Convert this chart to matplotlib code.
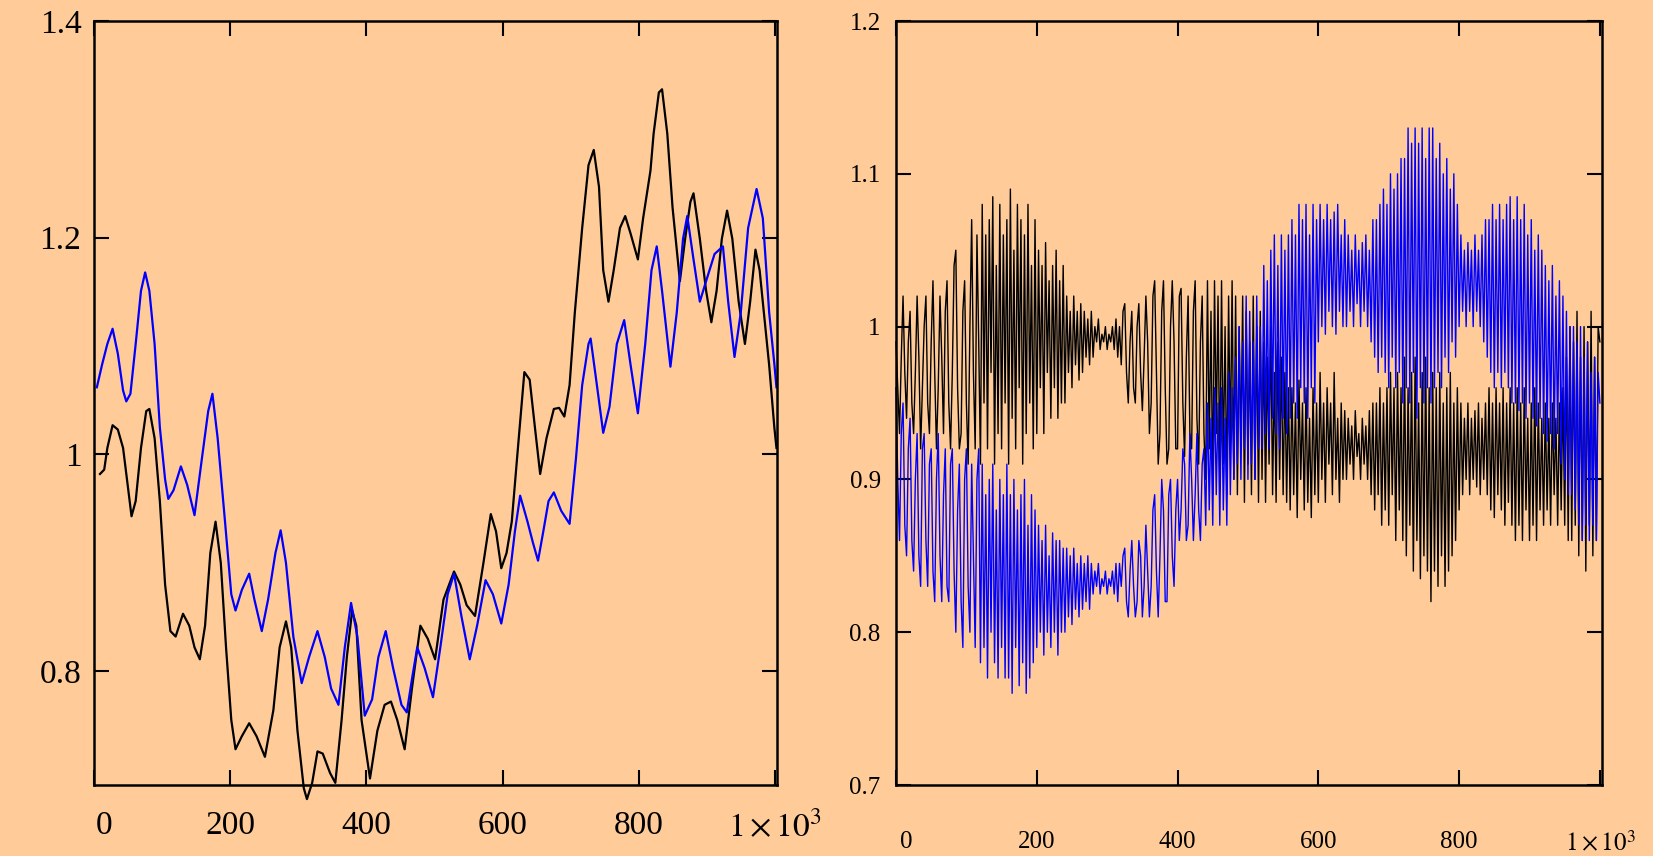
import numpy as np
import matplotlib
matplotlib.use("Agg")
import matplotlib.pyplot as plt
from matplotlib.transforms import ScaledTranslation

# left panel: two slowly wandering series
left_black_x = [8.8, 15.0, 19.6, 27.3, 35.0, 42.7, 50.4, 55.1, 61.2, 69.0,
                76.7, 81.3, 89.0, 96.7, 104.4, 112.2, 119.9, 130.7, 139.9, 147.6,
                155.4, 163.1, 170.8, 178.5, 186.2, 193.9, 201.6, 207.8, 217.1, 227.9,
                238.7, 251.0, 263.4, 272.6, 281.9, 289.6, 298.8, 308.1, 312.7, 320.4,
                328.2, 335.9, 346.7, 354.4, 363.6, 371.3, 379.1, 385.2, 392.9, 405.3,
                416.1, 426.8, 436.1, 445.3, 456.2, 466.9, 479.3, 490.1, 500.9, 513.2,
                528.7, 537.9, 547.2, 559.5, 571.9, 582.7, 590.4, 598.1, 605.8, 613.5,
                621.2, 632.0, 639.8, 647.5, 655.2, 664.5, 675.3, 683.0, 690.7, 698.4,
                706.1, 716.9, 726.2, 733.9, 741.6, 747.8, 755.5, 763.2, 772.4, 780.1,
                787.9, 798.7, 806.4, 817.2, 821.8, 829.5, 834.2, 841.9, 849.6, 860.4,
                868.1, 875.8, 880.4, 889.7, 898.9, 906.6, 914.3, 922.0, 929.7, 937.4,
                946.7, 955.9, 963.6, 971.4, 977.5, 983.7, 991.4, 999.1, 1002.2]
left_black_y = [0.982, 0.986, 1.006, 1.027, 1.023, 1.006, 0.967, 0.943, 0.957, 1.006,
                1.040, 1.042, 1.015, 0.957, 0.880, 0.837, 0.832, 0.853, 0.842, 0.822,
                0.811, 0.842, 0.909, 0.938, 0.900, 0.822, 0.755, 0.728, 0.740, 0.752,
                0.740, 0.721, 0.764, 0.822, 0.846, 0.822, 0.745, 0.692, 0.682, 0.697,
                0.726, 0.724, 0.706, 0.697, 0.755, 0.813, 0.856, 0.842, 0.755, 0.701,
                0.745, 0.769, 0.772, 0.755, 0.728, 0.784, 0.842, 0.830, 0.811, 0.866,
                0.892, 0.880, 0.861, 0.851, 0.900, 0.945, 0.929, 0.895, 0.909, 0.938,
                0.996, 1.076, 1.069, 1.025, 0.982, 1.015, 1.042, 1.043, 1.035, 1.064,
                1.131, 1.209, 1.267, 1.281, 1.247, 1.170, 1.141, 1.170, 1.209, 1.220,
                1.204, 1.180, 1.218, 1.262, 1.296, 1.334, 1.337, 1.296, 1.228, 1.160,
                1.199, 1.233, 1.241, 1.199, 1.151, 1.122, 1.151, 1.199, 1.225, 1.199,
                1.141, 1.102, 1.141, 1.189, 1.170, 1.131, 1.083, 1.025, 1.006]

left_blue_x = [4.2, 11.9, 19.6, 27.3, 35.0, 42.7, 47.4, 53.5, 61.2, 69.0,
               75.1, 81.3, 89.0, 96.7, 104.4, 109.1, 116.8, 127.6, 136.8, 147.6,
               158.4, 167.7, 173.9, 181.6, 192.4, 201.6, 207.8, 217.1, 227.9, 235.6,
               246.4, 255.6, 266.4, 274.1, 281.9, 292.7, 305.0, 315.8, 328.2, 338.9,
               348.2, 359.0, 368.3, 377.5, 386.8, 397.6, 408.4, 417.6, 428.4, 439.2,
               451.5, 459.3, 467.0, 474.7, 485.5, 497.8, 508.6, 519.4, 528.7, 539.5,
               551.8, 562.6, 575.0, 585.8, 598.1, 608.9, 618.1, 625.8, 636.6, 644.4,
               652.1, 659.8, 667.5, 675.3, 686.1, 698.4, 707.7, 716.9, 726.2, 729.3,
               738.5, 747.8, 757.0, 767.8, 778.6, 787.9, 798.7, 809.5, 818.7, 826.4,
               834.2, 846.5, 855.8, 865.0, 871.2, 880.4, 889.7, 898.9, 911.3, 923.6,
               931.3, 940.6, 949.8, 960.6, 973.0, 982.2, 991.5, 999.2, 1002.2]
left_blue_y = [1.062, 1.083, 1.102, 1.116, 1.093, 1.059, 1.049, 1.056, 1.102, 1.151,
               1.168, 1.151, 1.102, 1.025, 0.977, 0.959, 0.967, 0.989, 0.972, 0.944,
               0.996, 1.040, 1.056, 1.015, 0.938, 0.871, 0.856, 0.875, 0.890, 0.866,
               0.837, 0.866, 0.909, 0.930, 0.900, 0.832, 0.789, 0.813, 0.837, 0.813,
               0.784, 0.769, 0.822, 0.863, 0.832, 0.759, 0.774, 0.813, 0.837, 0.803,
               0.769, 0.762, 0.793, 0.822, 0.803, 0.776, 0.822, 0.871, 0.890, 0.851,
               0.811, 0.842, 0.884, 0.871, 0.844, 0.880, 0.929, 0.962, 0.938, 0.919,
               0.902, 0.929, 0.957, 0.965, 0.948, 0.936, 0.996, 1.064, 1.102, 1.107,
               1.064, 1.020, 1.044, 1.102, 1.124, 1.083, 1.038, 1.102, 1.170, 1.192,
               1.151, 1.081, 1.131, 1.199, 1.220, 1.180, 1.141, 1.160, 1.185, 1.192,
               1.141, 1.090, 1.131, 1.209, 1.245, 1.218, 1.131, 1.083, 1.062]

# right panel: fast oscillating series, one value every 2.5 steps (16 per row = 40 steps)
right_x = np.linspace(0, 1000, 401)
right_black = [
    0.99, 0.96, 0.93, 0.98, 1.02, 0.97, 0.94, 0.99, 1.01, 0.95, 0.93, 0.97, 1.02, 0.98, 0.92, 0.96,
    1.00, 1.02, 0.95, 0.93, 0.99, 1.03, 0.97, 0.92, 0.96, 1.02, 0.98, 0.93, 1.01, 1.03, 0.95, 0.92,
    0.97, 1.04, 1.05, 0.96, 0.92, 0.93, 1.01, 1.03, 0.95, 0.91, 1.00, 1.07, 0.97, 0.92, 1.06, 0.99,
    0.91, 1.08, 0.95, 1.06, 0.92, 1.07, 0.97, 1.085, 0.91, 1.04, 0.93, 1.08, 0.92, 1.06, 0.95, 1.07,
    0.91, 1.09, 0.94, 1.05, 0.92, 1.08, 0.96, 1.07, 0.91, 1.06, 0.93, 1.08, 0.95, 1.04, 0.92, 1.07,
    0.93, 1.05, 0.96, 1.04, 0.93, 1.055, 0.97, 1.03, 0.94, 1.04, 0.96, 1.05, 0.94, 1.03, 0.95, 1.04,
    0.95, 1.02, 0.97, 1.01, 0.96, 1.02, 0.975, 1.01, 0.965, 1.015, 0.97, 1.01, 0.98, 1.005, 0.975, 1.01,
    0.98, 1.00, 0.99, 1.005, 0.985, 0.995, 0.99, 1.00, 0.985, 0.995, 0.99, 1.0, 0.985, 1.005, 0.98, 1.0,
    0.975, 1.01, 1.015, 0.97, 0.95, 0.99, 1.01, 0.96, 0.95, 1.0, 1.015, 0.97, 0.945, 0.98, 1.02, 0.99,
    0.93, 0.95, 1.02, 1.03, 0.97, 0.91, 0.93, 1.01, 1.03, 0.96, 0.91, 0.92, 1.0, 1.03, 0.99, 0.92,
    0.92, 1.02, 1.025, 0.95, 0.915, 0.98, 1.02, 0.93, 0.92, 1.01, 1.03, 0.94, 0.91, 0.99, 1.02, 0.93,
    0.90, 1.03, 0.92, 1.01, 0.89, 1.03, 0.93, 1.02, 0.90, 1.03, 0.91, 1.00, 0.89, 1.02, 0.92, 1.03,
    0.90, 1.02, 0.89, 1.00, 0.92, 1.02, 0.885, 1.01, 0.91, 0.99, 0.89, 1.02, 0.90, 1.00, 0.885, 1.01,
    0.90, 0.99, 0.885, 0.98, 0.91, 1.00, 0.89, 0.97, 0.885, 0.99, 0.90, 0.98, 0.89, 0.97, 0.885, 0.96,
    0.88, 0.96, 0.89, 0.95, 0.875, 0.965, 0.90, 0.95, 0.88, 0.96, 0.885, 0.94, 0.875, 0.96, 0.89, 0.95,
    0.885, 0.97, 0.90, 0.95, 0.885, 0.96, 0.91, 0.95, 0.89, 0.97, 0.90, 0.94, 0.885, 0.95, 0.90, 0.945,
    0.90, 0.94, 0.91, 0.935, 0.90, 0.945, 0.915, 0.93, 0.90, 0.94, 0.91, 0.935, 0.90, 0.945, 0.89, 0.95,
    0.88, 0.95, 0.89, 0.96, 0.87, 0.95, 0.88, 0.96, 0.87, 0.97, 0.89, 0.96, 0.86, 0.97, 0.88, 0.96,
    0.86, 0.98, 0.85, 0.96, 0.87, 0.97, 0.84, 0.98, 0.86, 0.95, 0.835, 0.97, 0.85, 0.98, 0.84, 0.96,
    0.82, 0.97, 0.84, 0.96, 0.83, 0.97, 0.85, 0.95, 0.83, 0.96, 0.84, 0.97, 0.85, 0.95, 0.86, 0.96,
    0.88, 0.95, 0.89, 0.94, 0.90, 0.95, 0.89, 0.94, 0.90, 0.945, 0.895, 0.95, 0.89, 0.94, 0.90, 0.95,
    0.89, 0.96, 0.88, 0.95, 0.875, 0.96, 0.89, 0.95, 0.88, 0.96, 0.87, 0.95, 0.885, 0.96, 0.87, 0.95,
    0.86, 0.96, 0.87, 0.95, 0.86, 0.96, 0.88, 0.94, 0.86, 0.95, 0.87, 0.96, 0.86, 0.95, 0.88, 0.94,
    0.87, 0.95, 0.88, 0.94, 0.87, 0.95, 0.89, 0.94, 0.87, 0.95, 0.88, 0.96, 0.87, 0.98, 0.86, 1.00,
    0.86, 0.99, 0.87, 1.01, 0.85, 0.98, 0.86, 1.00, 0.84, 0.99, 0.87, 1.01, 0.85, 0.98, 0.86, 1.00,
    0.99]
right_blue = [
    0.96, 0.90, 0.86, 0.93, 0.95, 0.87, 0.85, 0.92, 0.94, 0.86, 0.84, 0.90, 0.93, 0.85, 0.83, 0.92,
    0.93, 0.86, 0.83, 0.91, 0.92, 0.84, 0.82, 0.90, 0.93, 0.85, 0.82, 0.89, 0.92, 0.83, 0.82, 0.91,
    0.92, 0.84, 0.80, 0.88, 0.91, 0.82, 0.79, 0.90, 0.92, 0.83, 0.80, 0.91, 0.85, 0.79, 0.90, 0.92,
    0.78, 0.91, 0.79, 0.89, 0.77, 0.90, 0.80, 0.91, 0.78, 0.88, 0.77, 0.90, 0.79, 0.89, 0.77, 0.91,
    0.77, 0.89, 0.76, 0.90, 0.79, 0.88, 0.765, 0.89, 0.78, 0.90, 0.76, 0.87, 0.77, 0.89, 0.78, 0.88,
    0.79, 0.87, 0.80, 0.86, 0.785, 0.87, 0.80, 0.85, 0.79, 0.865, 0.80, 0.86, 0.785, 0.86, 0.80, 0.855,
    0.80, 0.855, 0.81, 0.85, 0.805, 0.855, 0.815, 0.845, 0.81, 0.85, 0.815, 0.845, 0.82, 0.85, 0.815, 0.845,
    0.825, 0.84, 0.83, 0.845, 0.825, 0.835, 0.83, 0.84, 0.825, 0.835, 0.83, 0.84, 0.825, 0.845, 0.82, 0.845,
    0.83, 0.85, 0.855, 0.82, 0.81, 0.84, 0.86, 0.83, 0.81, 0.82, 0.86, 0.85, 0.81, 0.83, 0.87, 0.84,
    0.81, 0.83, 0.88, 0.89, 0.84, 0.81, 0.85, 0.90, 0.88, 0.82, 0.82, 0.89, 0.90, 0.85, 0.83, 0.88,
    0.90, 0.86, 0.88, 0.92, 0.91, 0.86, 0.87, 0.93, 0.90, 0.86, 0.89, 0.93, 0.88, 0.86, 0.91, 0.92,
    0.87, 0.95, 0.88, 0.94, 0.87, 0.96, 0.89, 0.95, 0.87, 0.96, 0.88, 0.94, 0.87, 0.97, 0.89, 0.96,
    0.90, 0.98, 0.91, 1.00, 0.90, 0.99, 0.92, 1.02, 0.90, 1.01, 0.91, 0.99, 0.90, 1.02, 0.92, 1.00,
    0.92, 1.04, 0.93, 1.03, 0.92, 1.05, 0.94, 1.06, 0.93, 1.04, 0.92, 1.06, 0.94, 1.05, 0.93, 1.06,
    0.94, 1.07, 0.95, 1.06, 0.94, 1.08, 0.96, 1.07, 0.95, 1.08, 0.94, 1.06, 0.96, 1.08, 0.95, 1.07,
    0.99, 1.08, 1.00, 1.07, 0.995, 1.08, 1.01, 1.07, 1.00, 1.075, 0.995, 1.08, 1.01, 1.06, 1.00, 1.07,
    1.00, 1.06, 1.01, 1.05, 1.00, 1.06, 1.015, 1.05, 1.00, 1.055, 1.01, 1.06, 1.00, 1.05, 0.99, 1.07,
    0.98, 1.07, 0.97, 1.08, 0.98, 1.09, 0.97, 1.08, 0.96, 1.10, 0.98, 1.09, 0.96, 1.10, 0.97, 1.11,
    0.95, 1.11, 0.96, 1.13, 0.95, 1.12, 0.97, 1.13, 0.94, 1.12, 0.96, 1.13, 0.95, 1.11, 0.96, 1.13,
    0.95, 1.13, 0.96, 1.11, 0.97, 1.12, 0.96, 1.10, 0.98, 1.11, 0.97, 1.09, 0.99, 1.10, 0.98, 1.08,
    1.00, 1.06, 1.01, 1.05, 1.00, 1.055, 1.01, 1.05, 1.00, 1.06, 1.01, 1.05, 1.00, 1.06, 0.99, 1.07,
    0.98, 1.07, 0.97, 1.08, 0.96, 1.07, 0.97, 1.08, 0.96, 1.07, 0.97, 1.08, 0.96, 1.085, 0.95, 1.07,
    0.95, 1.085, 0.945, 1.07, 0.95, 1.08, 0.94, 1.06, 0.95, 1.07, 0.94, 1.05, 0.935, 1.06, 0.94, 1.05,
    0.93, 1.04, 0.925, 1.03, 0.93, 1.04, 0.92, 1.02, 0.93, 1.03, 0.91, 1.02, 0.90, 1.01, 0.89, 1.00,
    0.89, 1.00, 0.88, 0.99, 0.87, 1.00, 0.86, 0.98, 0.87, 0.99, 0.86, 0.97, 0.87, 0.98, 0.86, 0.97,
    0.95]

x_ticks = [0, 200, 400, 600, 800, 1000]
x_labels = ["0", "200", "400", "600", "800", r"$1\times10^3$"]
left_yticks = [0.8, 1.0, 1.2, 1.4]
left_ylabels = ["0.8", "1", "1.2", "1.4"]
right_yticks = [0.7, 0.8, 0.9, 1.0, 1.1, 1.2]
right_ylabels = ["0.7", "0.8", "0.9", "1", "1.1", "1.2"]

bg = "#ffcc99"
plt.rcParams["font.family"] = ["Liberation Serif", "DejaVu Serif"]
plt.rcParams["mathtext.fontset"] = "stix"

fig = plt.figure(figsize=(16.53, 8.56), dpi=100, facecolor=bg)
W, H = 1653, 856
ax1 = fig.add_axes([94 / W, 1 - 785 / H, (777 - 94) / W, (785 - 21) / H])
ax2 = fig.add_axes([896 / W, 1 - 785 / H, (1602 - 896) / W, (785 - 21) / H])

ax1.plot(left_black_x, left_black_y, color="black", lw=1.6, clip_on=False)
ax1.plot(left_blue_x, left_blue_y, color="blue", lw=1.6, clip_on=False)
ax2.plot(right_x, right_black, color="black", lw=1.0, clip_on=False)
ax2.plot(right_x, right_blue, color="blue", lw=1.0, clip_on=False)

for ax in (ax1, ax2):
    ax.set_facecolor(bg)
    ax.set_xlim(2, 1003)
    ax.set_xticks(x_ticks)
    ax.set_xticklabels(x_labels)
    for s in ax.spines.values():
        s.set_linewidth(1.8)
    ax.tick_params(direction="in", length=11, width=1.5, top=True, right=True)

ax1.set_ylim(0.695, 1.4)
ax1.set_yticks(left_yticks)
ax1.set_yticklabels(left_ylabels)
ax1.tick_params(labelsize=24)
ax1.tick_params(axis="x", pad=18)
ax1.tick_params(axis="y", pad=9)

ax2.set_ylim(0.7, 1.2)
ax2.set_yticks(right_yticks)
ax2.set_yticklabels(right_ylabels)
ax2.tick_params(labelsize=18)
ax2.tick_params(axis="x", pad=33)
ax2.tick_params(axis="y", pad=11)

# the "0" labels sit a little right of their tick
shift = ScaledTranslation(10 / 100, 0, fig.dpi_scale_trans)
for ax in (ax1, ax2):
    lab = ax.get_xticklabels()[0]
    lab.set_transform(lab.get_transform() + shift)

fig.savefig("out.png", dpi=100, facecolor=bg)
